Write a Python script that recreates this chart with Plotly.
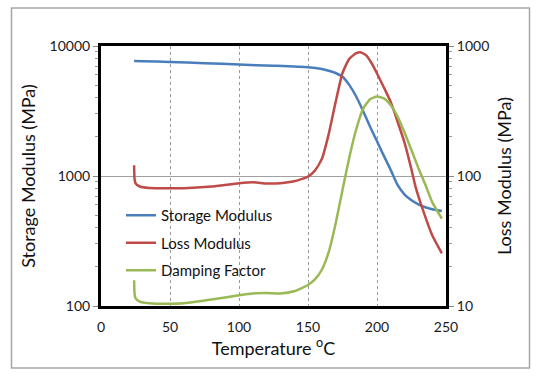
import plotly.graph_objects as go

# ---- data ----
temp_storage = [24, 30, 50, 75, 100, 125, 150, 160, 165, 170, 175, 180, 185, 190, 195, 200, 204, 210, 215, 220, 225, 230, 235, 240, 247]
storage_modulus = [7660, 7640, 7530, 7380, 7200, 7050, 6860, 6650, 6450, 6200, 5800, 5000, 4070, 3150, 2390, 1850, 1500, 1110, 850, 720, 650, 605, 575, 555, 538]

temp_loss = [24, 24.3, 25, 28, 35, 50, 60, 80, 100, 110, 120, 130, 140, 150, 155, 160, 165, 170, 175, 180, 185, 188, 192, 196, 200, 205, 210, 215, 220, 225, 228, 234, 240, 247]
loss_modulus = [121, 95, 88, 83, 81, 80.5, 80.5, 83, 88, 89.5, 87.5, 88, 91, 99, 110, 135, 210, 370, 620, 800, 880, 895, 850, 740, 615, 480, 370, 260, 180, 112, 82, 52, 35, 25.4]

temp_damp = [24, 24.3, 25, 28, 35, 50, 60, 80, 100, 110, 120, 130, 140, 150, 155, 160, 165, 170, 175, 180, 185, 190, 195, 200, 205, 210, 215, 220, 225, 230, 235, 240, 247]
damping_factor = [15.8, 12.5, 11.5, 10.8, 10.5, 10.4, 10.5, 11.2, 12.1, 12.5, 12.6, 12.5, 13.0, 14.5, 16, 19, 26, 43, 78, 140, 230, 330, 390, 408, 395, 350, 285, 215, 158, 115, 86, 63, 47]

x_ticks = [0, 50, 100, 150, 200, 250]
left_ticks = [100, 1000, 10000]
right_ticks = [10, 100, 1000]
left_minor = [m * d for d in (100, 1000) for m in range(2, 10)]
right_minor = [m * d for d in (10, 100) for m in range(2, 10)]

FONT = "Lato"
BLUE = "#4a7ebb"
RED = "#be4b48"
GREEN = "#98b954"

fig = go.Figure()
fig.add_trace(go.Scatter(x=temp_storage, y=storage_modulus, name="Storage Modulus",
                         mode="lines", line=dict(color=BLUE, width=2.5, shape="spline", smoothing=0.5),
                         legendgroup="a"))
fig.add_trace(go.Scatter(x=temp_loss, y=loss_modulus, name="Loss Modulus", yaxis="y2",
                         mode="lines", line=dict(color=RED, width=2.5, shape="spline", smoothing=0.5),
                         legendgroup="b"))
fig.add_trace(go.Scatter(x=temp_damp, y=damping_factor, name="Damping Factor", yaxis="y2",
                         mode="lines", line=dict(color=GREEN, width=2.5, shape="spline", smoothing=0.5),
                         legendgroup="c"))

W, H = 542, 379
L, R, T, B = 101, 96, 46, 73
pw, ph = W - L - R, H - T - B

def px_x(p):
    return (p - L) / pw

def px_y(p):
    return (H - B - p) / ph

fig.update_layout(
    width=W, height=H,
    margin=dict(l=L, r=R, t=T, b=B, autoexpand=False),
    paper_bgcolor="white", plot_bgcolor="white",
    font=dict(family=FONT, color="#1a1a1a", size=14),
    showlegend=True,
    legend=dict(x=px_x(121), y=px_y(199), xanchor="left", yanchor="top",
                bgcolor="rgba(0,0,0,0)", font=dict(size=15, color="#111"),
                tracegroupgap=5, itemwidth=30),
    xaxis=dict(range=[0, 250], tickvals=x_ticks, ticktext=[str(v) for v in x_ticks],
               showgrid=True, gridcolor="#9a9a9a", griddash="3px,3px", gridwidth=1,
               showline=True, linecolor="black", linewidth=3, mirror=True,
               ticks="outside", ticklen=6, tickcolor="rgba(0,0,0,0)",
               zeroline=False,
               title=dict(text="Temperature <sup>o</sup>C", font=dict(size=18, color="#111"), standoff=9)),
    yaxis=dict(type="log", range=[2, 4], tickvals=left_ticks, ticktext=[str(v) for v in left_ticks],
               showgrid=True, gridcolor="#a0a0a0", gridwidth=1,
               showline=True, linecolor="black", linewidth=3,
               ticks="outside", ticklen=5, tickcolor="#888",
               minor=dict(ticks="outside", ticklen=3, tickcolor="#999", tickmode="array",
                          tickvals=left_minor, showgrid=False),
               zeroline=False,
               title=dict(text="Storage Modulus (MPa)", font=dict(size=18, color="#111"), standoff=10)),
    yaxis2=dict(type="log", range=[1, 3], tickvals=right_ticks, ticktext=[str(v) for v in right_ticks],
                overlaying="y", side="right", showgrid=False,
                showline=True, linecolor="black", linewidth=3,
                ticks="outside", ticklen=5, tickcolor="#888",
                minor=dict(ticks="outside", ticklen=3, tickcolor="#999", tickmode="array",
                           tickvals=right_minor, showgrid=False),
                zeroline=False,
                title=dict(text="Loss Modulus (MPa)", font=dict(size=18, color="#111"), standoff=11)),
    shapes=[dict(type="rect", xref="paper", yref="paper",
                 x0=px_x(11.5), x1=px_x(529.5), y0=px_y(368), y1=px_y(8),
                 line=dict(color="#a6a6a6", width=1.5), fillcolor="rgba(0,0,0,0)", layer="below")],
)

fig.write_html("out.html", config={"displayModeBar": False},
               post_script="document.body.style.margin='0';document.body.style.padding='0';")
